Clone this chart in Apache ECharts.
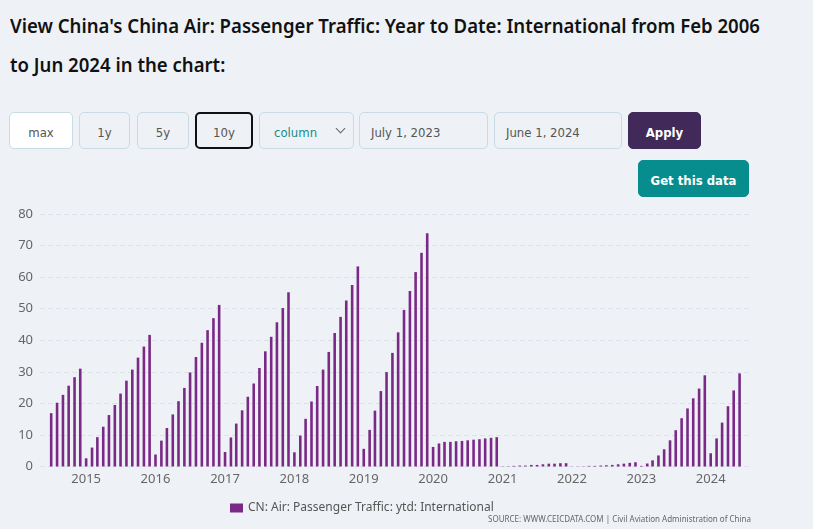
<!DOCTYPE html>
<html><head><meta charset="utf-8">
<script src="https://cdn.jsdelivr.net/npm/echarts@6/dist/echarts.min.js"></script>
<style>
html,body{margin:0;padding:0;background:#eef2f6;width:813px;height:529px;overflow:hidden;font-family:'Noto Sans',sans-serif;}
#title{position:absolute;left:10px;top:7px;font-size:19px;font-weight:600;line-height:39px;color:#111;white-space:nowrap;transform-origin:0 0;}
.btn{position:absolute;top:112px;height:37px;box-sizing:border-box;border:1px solid #c9dbe5;border-radius:5px;font-size:13px;color:#555;display:flex;align-items:center;justify-content:center;font-family:'Liberation Sans Narrow','DejaVu Sans Condensed',sans-serif;background:#eef2f6;padding-top:3px;}
.left{justify-content:flex-start;padding-left:11px;}
#chart{position:absolute;left:0;top:195px;width:813px;height:334px;}
</style></head>
<body>
<div id="title">View China's China Air: Passenger Traffic: Year to Date: International from Feb 2006<br>to Jun 2024 in the chart:</div>
<div class="btn" style="left:9px;width:64px;background:#fff;">max</div>
<div class="btn" style="left:79px;width:51px;">1y</div>
<div class="btn" style="left:137px;width:52px;">5y</div>
<div class="btn" style="left:195px;width:58px;border:2px solid #111;">10y</div>
<div class="btn left" style="left:259px;width:95px;color:#168a8c;padding-left:14px;">column<span style="position:absolute;right:9px;top:12px;width:6px;height:6px;border-right:1.3px solid #666;border-bottom:1.3px solid #666;transform:rotate(45deg);"></span></div>
<div class="btn left" style="left:359px;width:129px;">July 1, 2023</div>
<div class="btn left" style="left:494px;width:128px;">June 1, 2024</div>
<div class="btn" style="left:628px;width:73px;background:#412a5a;border-color:#412a5a;color:#fff;font-weight:bold;">Apply</div>
<div class="btn" style="left:638px;top:160px;width:111px;background:#078d8e;border-color:#078d8e;color:#fff;font-weight:bold;">Get this data</div>
<div id="chart"></div>
<script>
// Year-to-date international passenger traffic (monthly, Jul 2014 - Jun 2024)
const firstYear = 2014, firstMonth = 7;
const ytd2014 = [16.9, 20.2, 22.7, 25.6, 28.3, 31.0];
const ytd2015 = [2.6, 6.0, 9.3, 12.6, 16.3, 19.5, 23.1, 27.2, 30.7, 34.5, 38.0, 41.7];
const ytd2016 = [3.8, 8.2, 12.2, 16.5, 20.7, 24.9, 29.8, 34.7, 39.2, 43.2, 47.0, 51.2];
const ytd2017 = [4.6, 9.2, 13.6, 17.8, 22.1, 26.3, 31.2, 36.5, 41.1, 45.7, 50.2, 55.2];
const ytd2018 = [4.5, 9.8, 15.1, 20.6, 25.5, 30.7, 36.3, 42.3, 47.4, 52.6, 57.5, 63.4];
const ytd2019 = [5.6, 11.6, 17.7, 23.9, 29.9, 36.0, 42.5, 49.6, 55.6, 61.6, 67.7, 73.9];
const ytd2020 = [6.2, 7.3, 7.8, 7.8, 8.0, 8.1, 8.3, 8.5, 8.65, 8.9, 9.1, 9.3];
const ytd2021 = [0.1, 0.1, 0.2, 0.3, 0.3, 0.5, 0.5, 0.7, 0.9, 0.9, 1.05, 1.05];
const ytd2022 = [0.05, 0.05, 0.1, 0.2, 0.2, 0.3, 0.4, 0.5, 0.7, 0.9, 1.15, 1.35];
const ytd2023 = [0.2, 0.95, 1.95, 3.5, 5.45, 8.3, 11.5, 15.3, 18.4, 21.6, 24.7, 28.9];
const ytd2024 = [4.2, 8.9, 13.9, 19.1, 24.1, 29.5];
const yearly = [ytd2014, ytd2015, ytd2016, ytd2017, ytd2018, ytd2019, ytd2020, ytd2021, ytd2022, ytd2023, ytd2024];
const yTicks = [0, 10, 20, 30, 40, 50, 60, 70, 80];
const seriesName = 'CN: Air: Passenger Traffic: ytd: International';
const sourceText = 'SOURCE: WWW.CEICDATA.COM | Civil Aviation Administration of China';

const pad = n => (n < 10 ? '0' : '') + n;
const points = [];
yearly.forEach((arr, i) => {
  const y = firstYear + i;
  const m0 = i === 0 ? firstMonth : 1;
  arr.forEach((v, j) => points.push([y + '-' + pad(m0 + j) + '-01', v]));
});

// fit title width
const t = document.getElementById('title');
const w = t.getBoundingClientRect().width;
t.style.transform = 'scaleX(' + (750 / w) + ')';

const chart = echarts.init(document.getElementById('chart'));
chart.setOption({
  animation: false,
  textStyle: { fontFamily: 'Noto Sans' },
  grid: { left: 40, right: 63, top: 19, bottom: 62.5, containLabel: false },
  legend: {
    left: 225, top: 302, itemWidth: 13, itemHeight: 9, icon: 'rect', itemGap: 10,
    textStyle: { color: '#555', fontSize: 12, fontFamily: 'Noto Sans' },
    data: [seriesName]
  },
  graphic: [{
    type: 'text', right: 62, top: 321,
    style: { text: sourceText, fill: '#666', font: '8px "Noto Sans"' }
  }],
  xAxis: {
    type: 'time', min: '2014-05-10', max: '2024-07-19', splitNumber: 10,
    axisLine: { show: false }, axisTick: { show: false }, splitLine: { show: false },
    axisLabel: {
      color: '#666', fontSize: 13, margin: 6, showMinLabel: false, showMaxLabel: false,
      formatter: function (val) {
        const d = new Date(val);
        return (d.getMonth() === 0 && d.getDate() === 1) ? String(d.getFullYear()) : '';
      }
    }
  },
  yAxis: {
    type: 'value', min: yTicks[0], max: yTicks[yTicks.length - 1], interval: 10,
    axisLine: { show: false }, axisTick: { show: false },
    axisLabel: { color: '#666', fontSize: 13, margin: 7 },
    splitLine: { lineStyle: { color: '#dce2e8', type: [5, 3], width: 1 } }
  },
  series: [{
    name: seriesName, type: 'bar', data: points, barWidth: 2.6,
    itemStyle: { color: '#7a2a86' }
  }]
});
</script>
</body></html>
